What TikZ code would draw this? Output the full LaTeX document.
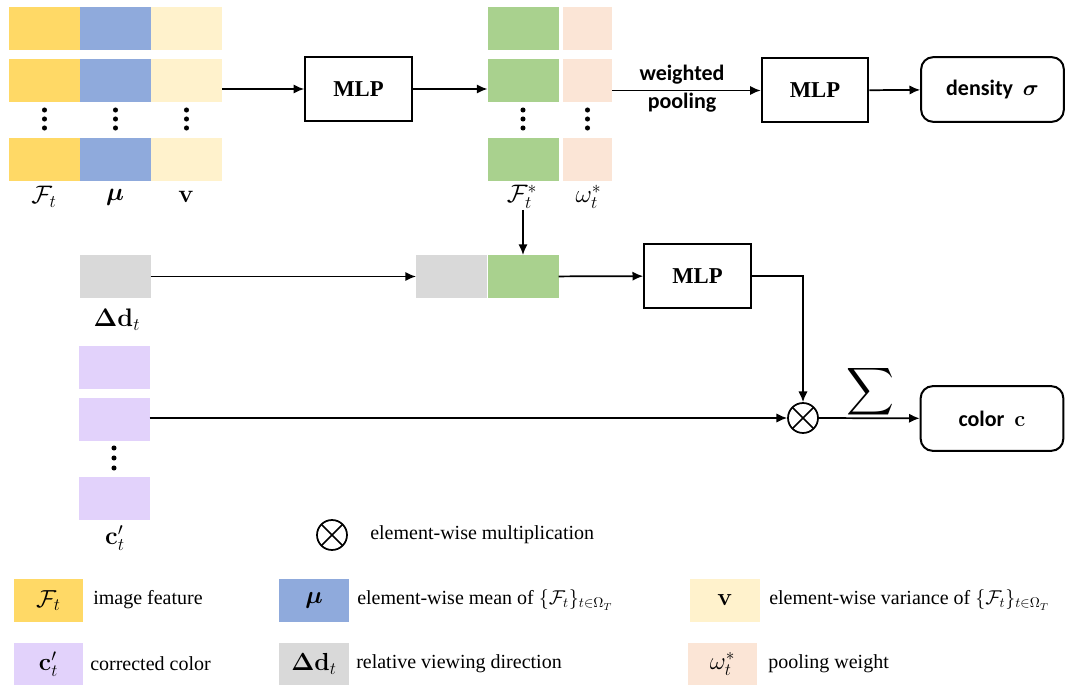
\documentclass[tikz,border=0pt]{standalone}
\usepackage{fix-cm}
\usepackage{amsmath,bm}
\usepackage[no-math]{fontspec}
\setmainfont{Liberation Serif}
\newfontfamily\calibri{Carlito}
\usetikzlibrary{arrows.meta}

\definecolor{featyellow}{HTML}{FFD966}
\definecolor{meanblue}{HTML}{8FAADC}
\definecolor{varcream}{HTML}{FFF2CC}
\definecolor{featgreen}{HTML}{A9D18E}
\definecolor{weightpink}{HTML}{FBE5D6}
\definecolor{dirgray}{HTML}{D9D9D9}
\definecolor{colpurple}{HTML}{E2D2FB}

\tikzset{
  cell/.style={fill=#1, inner sep=0pt, outer sep=0pt, minimum width=53.25pt, minimum height=32.25pt},
  thincell/.style={cell=#1, minimum width=36.75pt},
  lbl/.style={inner sep=0.5pt, font=\fontsize{19}{23}\selectfont},
  mlp/.style={draw, line width=1.5pt, minimum width=80pt, minimum height=48pt, font=\fontsize{17}{20}\selectfont\bfseries},
  outbox/.style={draw, line width=1.5pt, rounded corners=9pt, minimum width=107pt, minimum height=48.5pt, font=\fontsize{16.5}{20}\selectfont\calibri\bfseries},
  otimes/.style={draw, circle, line width=1.3pt, minimum size=22.5pt, inner sep=0pt,
    path picture={\draw[line width=1.1pt] (path picture bounding box.north west) -- (path picture bounding box.south east)
      (path picture bounding box.north east) -- (path picture bounding box.south west);}},
  legbox/.style={fill=#1, inner sep=0pt, minimum width=52pt, minimum height=32.25pt, font=\fontsize{18.5}{22}\selectfont},
  legtext/.style={anchor=west, inner sep=0pt},
}

\begin{document}
\begin{tikzpicture}[x=0.75pt,y=-0.75pt,>={Latex[length=8pt,width=7pt]},
  every node/.style={font=\fontsize{15}{18}\selectfont}]
\useasboundingbox (0,0) rectangle (1068,685);

% input features, mean, variance
\node[cell=featyellow] (f1) at (44.5,28.5) {};
\node[cell=meanblue] (u1) at (115.5,28.5) {};
\node[cell=varcream] (v1) at (186.5,28.5) {};
\node[cell=featyellow] (f2) at (44.5,80.5) {};
\node[cell=meanblue] (u2) at (115.5,80.5) {};
\node[cell=varcream] (v2) at (186.5,80.5) {};
\node[cell=featyellow] (f3) at (44.5,159.5) {};
\node[cell=meanblue] (u3) at (115.5,159.5) {};
\node[cell=varcream] (v3) at (186.5,159.5) {};

\node[lbl] (fl) at (44,197) {$\mathcal{F}_t$};
\node[lbl] (ul) at (115,197) {$\boldsymbol{\mu}$};
\node[lbl] (vl) at (186,197) {$\mathbf{v}$};

% new features and weights
\node[cell=featgreen] (g1) at (523,28.5) {};
\node[thincell=weightpink] (w1) at (587.5,28.5) {};
\node[cell=featgreen] (g2) at (523,80.5) {};
\node[thincell=weightpink] (w2) at (587.5,80.5) {};
\node[cell=featgreen] (g3) at (523,159.5) {};
\node[thincell=weightpink] (w3) at (587.5,159.5) {};

\node[lbl] (fs) at (522,197) {$\mathcal{F}_t^*$};
\node[lbl] (wl) at (588.5,197) {$\omega_t^*$};

\foreach \x in {44.5,115.5,186.5,523,587.5}
  \foreach \y in {110,119,128}
    \fill (\x,\y) circle (1.9pt);

\node[mlp] (m1) at (358.5,89) {MLP};
\node[mlp] (m2) at (815,90.5) {MLP};
\node[outbox] (dens) at (992.5,89.5) {density\ \ $\boldsymbol{\sigma}$};

\path[draw,line width=1.3pt,->] (v2.east |- m1) -- (m1);
\path[draw,line width=1.3pt,->] (m1) -- (g2.west |- m1);
\path[draw,line width=1.3pt,->] (w2.east |- m2) -- (m2);
\node[font=\fontsize{16.5}{21}\selectfont\calibri\bfseries, align=center] (wp) at (682,89) {weighted\\pooling};
\path[draw,line width=1.3pt,->] (m2) -- (dens);

% viewing direction branch
\node[cell=dirgray] (d) at (115,276.5) {};
\node[lbl] (dl) at (117,320) {$\mathbf{\Delta d}_t$};
\node[cell=dirgray] (cd) at (451.5,276.5) {};
\node[cell=featgreen] (cg) at (523,276.5) {};
\node[mlp] (m3) at (697.5,276) {MLP};

\path[draw,line width=1.3pt,->] (fs.south -| cg) -- (cg);
\path[draw,line width=1.3pt,->] (d) -- (cd);
\path[draw,line width=1.3pt,->] (cg) -- (m3);

% corrected colors
\node[cell=colpurple] (p1) at (114,367.5) {};
\node[cell=colpurple] (p2) at (114,419.5) {};
\node[cell=colpurple] (p3) at (114,498.5) {};
\node[lbl] (pl) at (115,538) {$\mathbf{c}'_t$};
\foreach \y in {448,458,468}
  \fill (114,\y) circle (1.9pt);

\node[otimes] (x) at (803,418) {};
\node[outbox] (c) at (992,418.5) {color\ \ $\mathbf{c}$};
\node[font=\fontsize{23}{26}\selectfont] (s) at (870,392) {$\displaystyle\sum$};

\path[draw,line width=1.3pt,->] (m3) -| (x);
\path[draw,line width=1.3pt,->] (p2.east |- x) -- (x);
\path[draw,line width=1.3pt,->] (x) -- (c);

% legend
\node[otimes] (lx) at (332,535) {};
\node[legtext] (lxt) at (370,535) {element-wise multiplication};

\node[legbox=featyellow] (lf) at (48.5,600.5) {$\mathcal{F}_t$};
\node[legtext] (lft) at (93,600) {image feature};
\node[legbox=meanblue] (lu) at (314,600.5) {$\boldsymbol{\mu}$};
\node[legtext] (lut) at (357,600) {element-wise mean of $\{\mathcal{F}_t\}_{t\in\Omega_T}$};
\node[legbox=varcream] (lv) at (725,600) {$\mathbf{v}$};
\node[legtext] (lvt) at (769,600) {element-wise variance of $\{\mathcal{F}_t\}_{t\in\Omega_T}$};

\node[legbox=colpurple] (lp) at (48.5,664) {$\mathbf{c}'_t$};
\node[legtext] (lpt) at (90,664) {corrected color};
\node[legbox=dirgray] (ld) at (314,664) {$\mathbf{\Delta d}_t$};
\node[legtext] (ldt) at (356,664) {relative viewing direction};
\node[legbox=weightpink] (lw) at (722.5,664) {$\omega_t^*$};
\node[legtext] (lwt) at (768,664) {pooling weight};
\end{tikzpicture}
\end{document}
